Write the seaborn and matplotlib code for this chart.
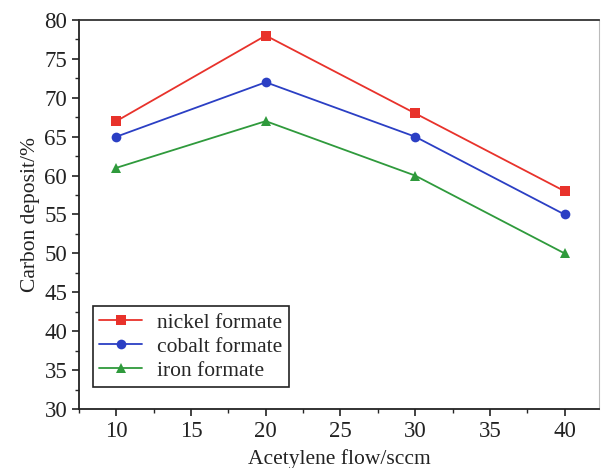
import matplotlib
matplotlib.use("Agg")
import matplotlib.pyplot as plt
import seaborn as sns
import pandas as pd
from matplotlib.ticker import MultipleLocator

flow = [10, 20, 30, 40]
nickel = [67, 78, 68, 58]
cobalt = [65, 72, 65, 55]
iron = [61, 67, 60, 50]
series_names = ["nickel formate", "cobalt formate", "iron formate"]

rows = []
for name, vals in zip(series_names, [nickel, cobalt, iron]):
    for x, y in zip(flow, vals):
        rows.append({"flow": x, "deposit": y, "series": name})
df = pd.DataFrame(rows)

sns.set_style("ticks")
plt.rcParams["font.family"] = ["Liberation Serif", "DejaVu Serif"]

fig = plt.figure(figsize=(6.01, 4.68), dpi=100)
ax = fig.add_axes([79/601, 1 - 409/468, (599-79)/601, (409-20)/468])

palette = {"nickel formate": "#e8322b", "cobalt formate": "#2b3fc4", "iron formate": "#2f9a3c"}
markers = {"nickel formate": "s", "cobalt formate": "o", "iron formate": "^"}
sns.lineplot(data=df, x="flow", y="deposit", hue="series", style="series",
             palette=palette, markers=markers, dashes=False, markersize=7,
             markeredgewidth=0, linewidth=1.3, ax=ax)

ax.set_xlim(7.5, 42.3)
ax.set_ylim(30, 80)
ax.xaxis.set_major_locator(MultipleLocator(5))
ax.xaxis.set_minor_locator(MultipleLocator(2.5))
ax.yaxis.set_major_locator(MultipleLocator(5))
ax.yaxis.set_minor_locator(MultipleLocator(2.5))
ax.tick_params(axis="both", which="major", direction="out", length=5, width=1.2, labelsize=16.5, colors="#222222")
ax.tick_params(axis="both", which="minor", direction="out", length=3, width=1.0)
ax.set_xticks([10, 15, 20, 25, 30, 35, 40])
for s in ["left", "bottom"]:
    ax.spines[s].set_linewidth(1.3)
    ax.spines[s].set_color("#222222")
ax.spines["top"].set_linewidth(1.3)
ax.spines["top"].set_color("#333333")
ax.spines["right"].set_linewidth(0.8)
ax.spines["right"].set_color("#bbbbbb")

ax.set_xlabel("Acetylene flow/sccm", fontsize=15.5, color="#222222", labelpad=5)
ax.set_ylabel("Carbon deposit/%", fontsize=15.5, color="#222222", labelpad=3)

leg = ax.legend(loc="lower left", bbox_to_anchor=(3/520, 11/389), fontsize=15.5,
                frameon=True, fancybox=False, edgecolor="#222222",
                handlelength=2.0, borderpad=0.3, labelspacing=0.18, handletextpad=0.7)
leg.get_frame().set_linewidth(1.2)
leg.get_frame().set_alpha(1)

fig.savefig("out.png", dpi=100)
